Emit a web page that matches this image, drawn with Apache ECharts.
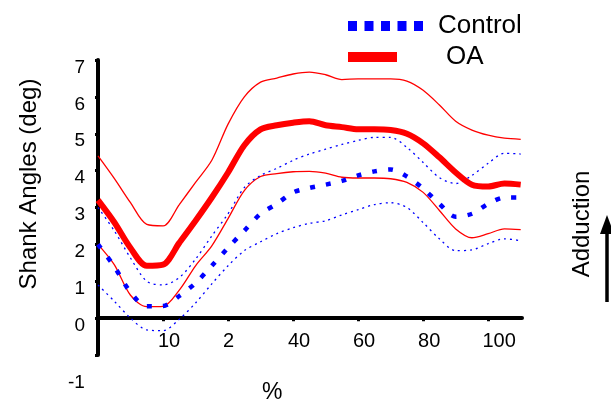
<!DOCTYPE html>
<html>
<head>
<meta charset="utf-8">
<script src="https://cdn.jsdelivr.net/npm/echarts@6/dist/echarts.min.js"></script>
<style>
  html, body { margin: 0; padding: 0; background: #fff; }
  #chart { width: 611px; height: 403px; }
</style>
</head>
<body>
<div id="chart"></div>
<script>
// x positions in tick steps (ticks are evenly spaced, labels as printed)
const xPos = [0, 0.25, 0.5, 0.75, 1, 1.25, 1.5, 1.75, 2, 2.25, 2.5, 2.75, 3, 3.25,
  3.5, 3.75, 4, 4.25, 4.5, 4.75, 5, 5.25, 5.5, 5.75, 6, 6.25, 6.5]
const xTickLabels = ['', '10', '2', '40', '60', '80', '100']

const oaMean = [3.2, 2.6, 1.9, 1.42, 1.45, 2.04, 2.64, 3.27, 3.95, 4.69, 5.12, 5.23, 5.3, 5.34,
  5.23, 5.18, 5.12, 5.12, 5.1, 5.0, 4.74, 4.36, 3.95, 3.62, 3.57, 3.65, 3.62]
const oaUpper = [4.4, 3.79, 3.13, 2.54, 2.5, 3.08, 3.68, 4.28, 5.26, 6.0, 6.4, 6.51, 6.62, 6.67,
  6.6, 6.47, 6.49, 6.49, 6.49, 6.43, 6.18, 5.78, 5.34, 5.1, 4.96, 4.88, 4.85]
const oaLower = [2.0, 1.45, 0.62, 0.31, 0.32, 0.76, 1.42, 1.96, 2.7, 3.46, 3.84, 3.92, 3.97, 3.98,
  3.93, 3.82, 3.8, 3.8, 3.78, 3.68, 3.41, 2.92, 2.42, 2.18, 2.29, 2.42, 2.4]

const ctrlMean = [2.0, 1.4, 0.7, 0.32, 0.33, 0.6, 0.95, 1.42, 1.91, 2.37, 2.83, 3.1, 3.41, 3.53,
  3.62, 3.72, 3.87, 3.98, 4.03, 3.84, 3.51, 3.1, 2.75, 2.83, 3.1, 3.27, 3.27]
const ctrlUpper = [3.0, 2.37, 1.63, 1.0, 0.9, 1.1, 1.6, 2.23, 2.83, 3.54, 3.87, 4.06, 4.28, 4.45,
  4.58, 4.71, 4.82, 4.9, 4.9, 4.63, 4.22, 3.81, 3.65, 3.87, 4.2, 4.47, 4.45]
const ctrlLower = [0.9, 0.46, 0.0, -0.32, -0.34, -0.03, 0.41, 0.93, 1.42, 1.83, 2.07, 2.29, 2.45, 2.57,
  2.64, 2.8, 2.94, 3.08, 3.13, 3.0, 2.59, 2.15, 1.83, 1.85, 2.02, 2.15, 2.1]

const pairs = ys => xPos.map((x, i) => [x, ys[i]])
const font = 'Liberation Sans, Arial, sans-serif'

const chart = echarts.init(document.getElementById('chart'))

function band(name, ys, color, dash) {
  return {
    name: name,
    type: 'line',
    data: pairs(ys),
    smooth: 0.3,
    symbol: 'none',
    silent: true,
    lineStyle: { color: color, width: 1.3, type: dash ? [2, 4] : 'solid' },
    z: 2
  }
}

const legendText = { fontFamily: font, fontSize: 26, color: '#000' }

chart.setOption({
  animation: false,
  grid: { left: 98, top: 60, right: 89, bottom: 48, outerBoundsMode: 'none', containLabel: false },
  legend: [
    {
      data: [{
        name: 'Control',
        icon: 'path://M0,0h9v10h-9z M16.5,0h9v10h-9z M33,0h9v10h-9z M49.5,0h9v10h-9z M66,0h9v10h-9z',
        itemStyle: { color: '#0000ff' }
      }],
      left: 343, top: 8,
      itemWidth: 75, itemHeight: 10,
      textStyle: Object.assign({ padding: [0, 0, 14, 10] }, legendText)
    },
    {
      data: [{ name: 'OA', icon: 'rect', itemStyle: { color: '#ff0000' } }],
      left: 343, top: 39,
      itemWidth: 49, itemHeight: 10,
      textStyle: Object.assign({ padding: [0, 0, 12, 44] }, legendText)
    }
  ],
  xAxis: {
    type: 'value',
    min: 0,
    max: 6.52,
    interval: 1,
    splitLine: { show: false },
    axisLine: { onZero: true, lineStyle: { color: '#000', width: 4 } },
    axisTick: { show: true, length: 3, lineStyle: { color: '#000', width: 3 } },
    axisLabel: {
      fontFamily: font, fontSize: 20, color: '#000', margin: -24,
      showMaxLabel: false,
      formatter: v => {
        const t = xTickLabels[Math.round(v)] || ''
        return t ? '{d' + t.length + '|' + t + '}' : ''
      },
      rich: {
        d1: { fontFamily: font, fontSize: 20, color: '#000', padding: [0, 0, 0, 1] },
        d2: { fontFamily: font, fontSize: 20, color: '#000', padding: [0, 0, 0, 12] },
        d3: { fontFamily: font, fontSize: 20, color: '#000', padding: [0, 0, 0, 22] }
      }
    }
  },
  yAxis: {
    type: 'value',
    min: -1,
    max: 7,
    interval: 1,
    splitLine: { show: false },
    axisLine: { show: true, lineStyle: { color: '#000', width: 4 } },
    axisTick: { show: true, length: 3, lineStyle: { color: '#000', width: 3 } },
    axisLabel: {
      fontFamily: font, fontSize: 19, color: '#000', margin: 13,
      formatter: v => (v === -1 ? '' : '{v|' + v + '}'),
      rich: { v: { fontFamily: font, fontSize: 19, color: '#000', padding: [15, 0, 0, 0] } }
    }
  },
  graphic: [
    {
      type: 'text', x: 29, y: 184, rotation: Math.PI / 2,
      style: { text: 'Shank Angles (deg)', font: '24px ' + font, fill: '#000', textAlign: 'center', textVerticalAlign: 'middle' }
    },
    { type: 'text', left: 68, top: 373, style: { text: '-1', font: '19px ' + font, fill: '#000' } },
    { type: 'text', left: 262, top: 381, style: { text: '%', font: '23px ' + font, fill: '#000' } },
    {
      type: 'text', x: 582, y: 224, rotation: Math.PI / 2,
      style: { text: 'Adduction', font: '24px ' + font, fill: '#000', textAlign: 'center', textVerticalAlign: 'middle' }
    },
    { type: 'line', shape: { x1: 607, y1: 302, x2: 607, y2: 228 }, style: { stroke: '#000', lineWidth: 3.5 } },
    { type: 'polygon', shape: { points: [[600, 234], [607, 215], [614, 234]] }, style: { fill: '#000' } }
  ],
  series: [
    band('OA upper', oaUpper, '#ff0000', false),
    band('OA lower', oaLower, '#ff0000', false),
    band('Control upper', ctrlUpper, '#0000ff', true),
    band('Control lower', ctrlLower, '#0000ff', true),
    {
      name: 'Control',
      type: 'line',
      data: pairs(ctrlMean),
      smooth: 0.3,
      symbol: 'none',
      itemStyle: { color: '#0000ff' },
      lineStyle: { color: '#0000ff', width: 4.5, type: [5, 11] },
      z: 3
    },
    {
      name: 'OA',
      type: 'line',
      data: pairs(oaMean),
      smooth: 0.3,
      symbol: 'none',
      itemStyle: { color: '#ff0000' },
      lineStyle: { color: '#ff0000', width: 6 },
      z: 4
    }
  ]
})
</script>
</body>
</html>
